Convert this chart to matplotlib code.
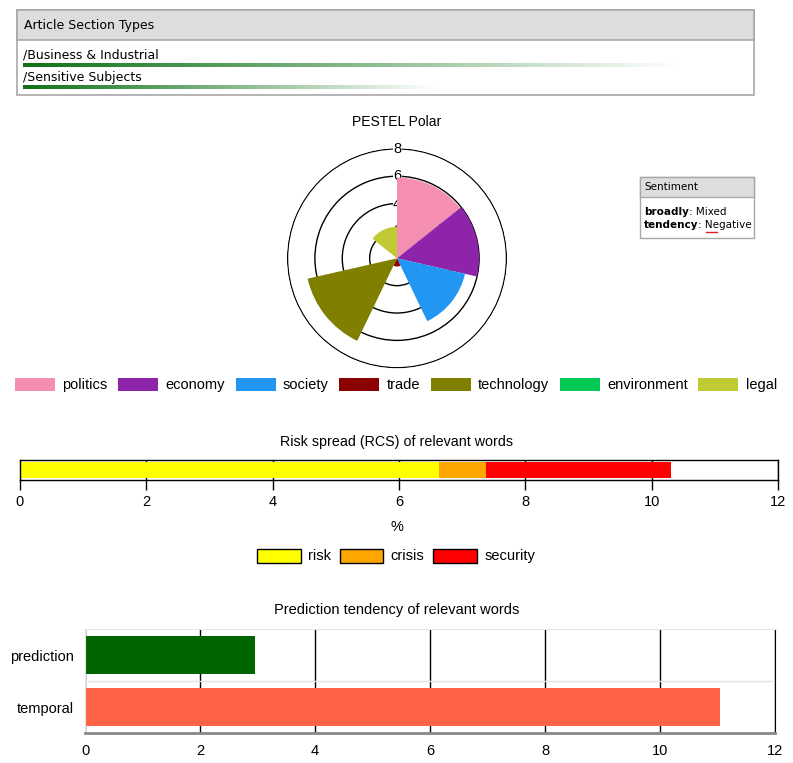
import numpy as np
import matplotlib.pyplot as plt
from matplotlib.patches import Patch, Rectangle

plt.rcParams['font.family'] = ['Liberation Sans', 'DejaVu Sans']

W, H = 793, 763

sections = ['/Business & Industrial', '/Sensitive Subjects']
section_scores = [0.9, 0.57]

pestel_labels = ['politics', 'economy', 'society', 'trade', 'technology', 'environment', 'legal']
pestel_values = [5.9, 6.0, 5.1, 0.6, 6.7, 0.0, 2.3]
pestel_colors = ['#f48fb1', '#8e24aa', '#2196f3', '#8b0000', '#808000', '#00c853', '#c0ca33']
polar_ticks = [2, 4, 6, 8]

sentiment_broadly = 'Mixed'
sentiment_tendency = 'Negative'

risk_labels = ['risk', 'crisis', 'security']
risk_values = [6.63, 0.74, 2.94]
risk_colors = ['#ffff00', '#ffa500', '#ff0000']

pred_labels = ['prediction', 'temporal']
pred_values = [2.95, 11.05]
pred_colors = ['#006400', '#ff6347']

ticks12 = [0, 2, 4, 6, 8, 10, 12]


def box(left, top, w, h):
    # pixel box -> figure fraction
    return [left / W, 1 - (top + h) / H, w / W, h / H]


fig = plt.figure(figsize=(W / 100, H / 100), dpi=100)

# page boxes, drawn in pixel coords
canvas = fig.add_axes([0, 0, 1, 1], zorder=-1)
canvas.set_xlim(0, W)
canvas.set_ylim(H, 0)
canvas.axis('off')

canvas.add_patch(Rectangle((17, 10), 737, 84.5, fc='white', ec='#a8a8a8', lw=1.2))
canvas.add_patch(Rectangle((17, 10), 737, 29.5, fc='#dddddd', ec='#a8a8a8', lw=1.2))
canvas.text(24, 26, 'Article Section Types', family='DejaVu Sans', fontsize=9, va='center')

canvas.add_patch(Rectangle((640, 177), 114, 61, fc='white', ec='#a8a8a8', lw=1))
canvas.add_patch(Rectangle((640, 177), 114, 20, fc='#dddddd', ec='#a8a8a8', lw=1))
canvas.text(644, 187.5, 'Sentiment', family='DejaVu Sans', fontsize=7.5, va='center')
t1 = canvas.text(644, 212, 'broadly', family='DejaVu Sans', fontsize=7.5, weight='bold', va='center')
canvas.annotate(': ' + sentiment_broadly, xy=(1, 0), xycoords=t1, va='bottom',
                family='DejaVu Sans', fontsize=7.5)
t2 = canvas.text(644, 225, 'tendency', family='DejaVu Sans', fontsize=7.5, weight='bold', va='center')
canvas.annotate(': ' + sentiment_tendency, xy=(1, 0), xycoords=t2, va='bottom',
                family='DejaVu Sans', fontsize=7.5)
canvas.plot([706, 717], [232, 232], color='#e02020', lw=1)

# article section rows with fading bars
sax = fig.add_axes(box(23, 44, 731, 46.2))
green = np.array([0.05, 0.45, 0.08])
for i, (name, score) in enumerate(zip(sections, section_scores)):
    sax.text(0, i + 0.5, name, family='DejaVu Sans', fontsize=9, va='center')
    grad = np.zeros((1, 256, 4))
    grad[..., :3] = green
    grad[..., 3] = np.linspace(1, 0, 256)
    sax.imshow(grad, extent=[0, score, i + 1.06, i + 0.88], aspect='auto', interpolation='bilinear')
sax.set_xlim(0, 1)
sax.set_ylim(2.1, 0)
sax.axis('off')

# PESTEL polar
fig.text(397 / W, 1 - 122 / H, 'PESTEL Polar', ha='center', va='center', fontsize=10)
pax = fig.add_axes(box(287, 148.3, 220, 220), projection='polar')
pax.set_theta_zero_location('N')
pax.set_theta_direction(-1)
theta = np.arange(len(pestel_values)) * 2 * np.pi / len(pestel_values)
pax.bar(theta, pestel_values, width=2 * np.pi / len(pestel_values), align='edge',
        color=pestel_colors, zorder=3)
pax.set_ylim(0, 8.04)
pax.set_yticks(polar_ticks)
pax.set_yticklabels([])
pax.set_xticks([])
pax.set_axisbelow(True)
pax.yaxis.grid(True, color='black', lw=1)
pax.spines['polar'].set_visible(False)
for t in polar_ticks:
    pax.text(0, t, str(t), ha='center', va='center', fontsize=10.5, zorder=2,
             bbox=dict(fc='white', ec='none', pad=0.3))

handles = [Patch(fc=c, ec='none') for c in pestel_colors]
fig.legend(handles, pestel_labels, loc='center', bbox_to_anchor=(396 / W, 1 - 385 / H),
           ncol=7, frameon=False, fontsize=10.5, handlelength=2.75, handleheight=1.0,
           handletextpad=0.5, columnspacing=0.72)

# risk spread
fig.text(397 / W, 1 - 442 / H, 'Risk spread (RCS) of relevant words', ha='center', va='center', fontsize=10.3)
rax = fig.add_axes(box(20, 460, 758, 20))
lefts = np.concatenate([[0], np.cumsum(risk_values)[:-1]])
rax.barh([0] * len(risk_values), risk_values, left=lefts, height=0.77, color=risk_colors, zorder=2)
rax.set_xlim(0, 12)
rax.set_ylim(-0.5, 0.5)
rax.set_yticks([])
rax.set_xticks(ticks12)
rax.tick_params(axis='x', length=7, width=1, labelsize=10.5, pad=4)
rax.grid(axis='x', color='black', lw=1, zorder=0)
rax.set_axisbelow(True)
for s in rax.spines.values():
    s.set_color('black')
    s.set_linewidth(1)
fig.text(397 / W, 1 - 527 / H, '%', ha='center', va='center', fontsize=10.5)

rhandles = [Patch(fc=c, ec='black', lw=1) for c in risk_colors]
fig.legend(rhandles, risk_labels, loc='center', bbox_to_anchor=(396 / W, 1 - 556 / H),
           ncol=3, frameon=False, fontsize=10.5, handlelength=3.0, handleheight=1.1,
           handletextpad=0.5, columnspacing=0.6)

# prediction tendency
fig.text(397 / W, 1 - 610 / H, 'Prediction tendency of relevant words', ha='center', va='center', fontsize=10.5)
pdx = fig.add_axes(box(85, 629, 690, 104))
pdx.barh(range(len(pred_values)), pred_values, height=0.72, color=pred_colors, zorder=2)
pdx.set_xlim(0, 12)
pdx.set_ylim(1.5, -0.5)
pdx.set_xticks(ticks12)
pdx.set_yticks(range(len(pred_labels)))
pdx.set_yticklabels(pred_labels)
pdx.tick_params(axis='x', length=0, labelsize=10.5, pad=8)
pdx.tick_params(axis='y', length=0, labelsize=10.5, pad=8)
pdx.grid(axis='x', color='black', lw=1)
pdx.set_axisbelow(True)
pdx.axhline(0.5, color='#e4e4e4', lw=1, zorder=1)
pdx.spines['top'].set_color('#e4e4e4')
pdx.spines['left'].set_color('#e4e4e4')
pdx.spines['right'].set_color('black')
pdx.spines['bottom'].set_color('#888888')
pdx.spines['bottom'].set_linewidth(2)

fig.savefig('out.png', dpi=100)
